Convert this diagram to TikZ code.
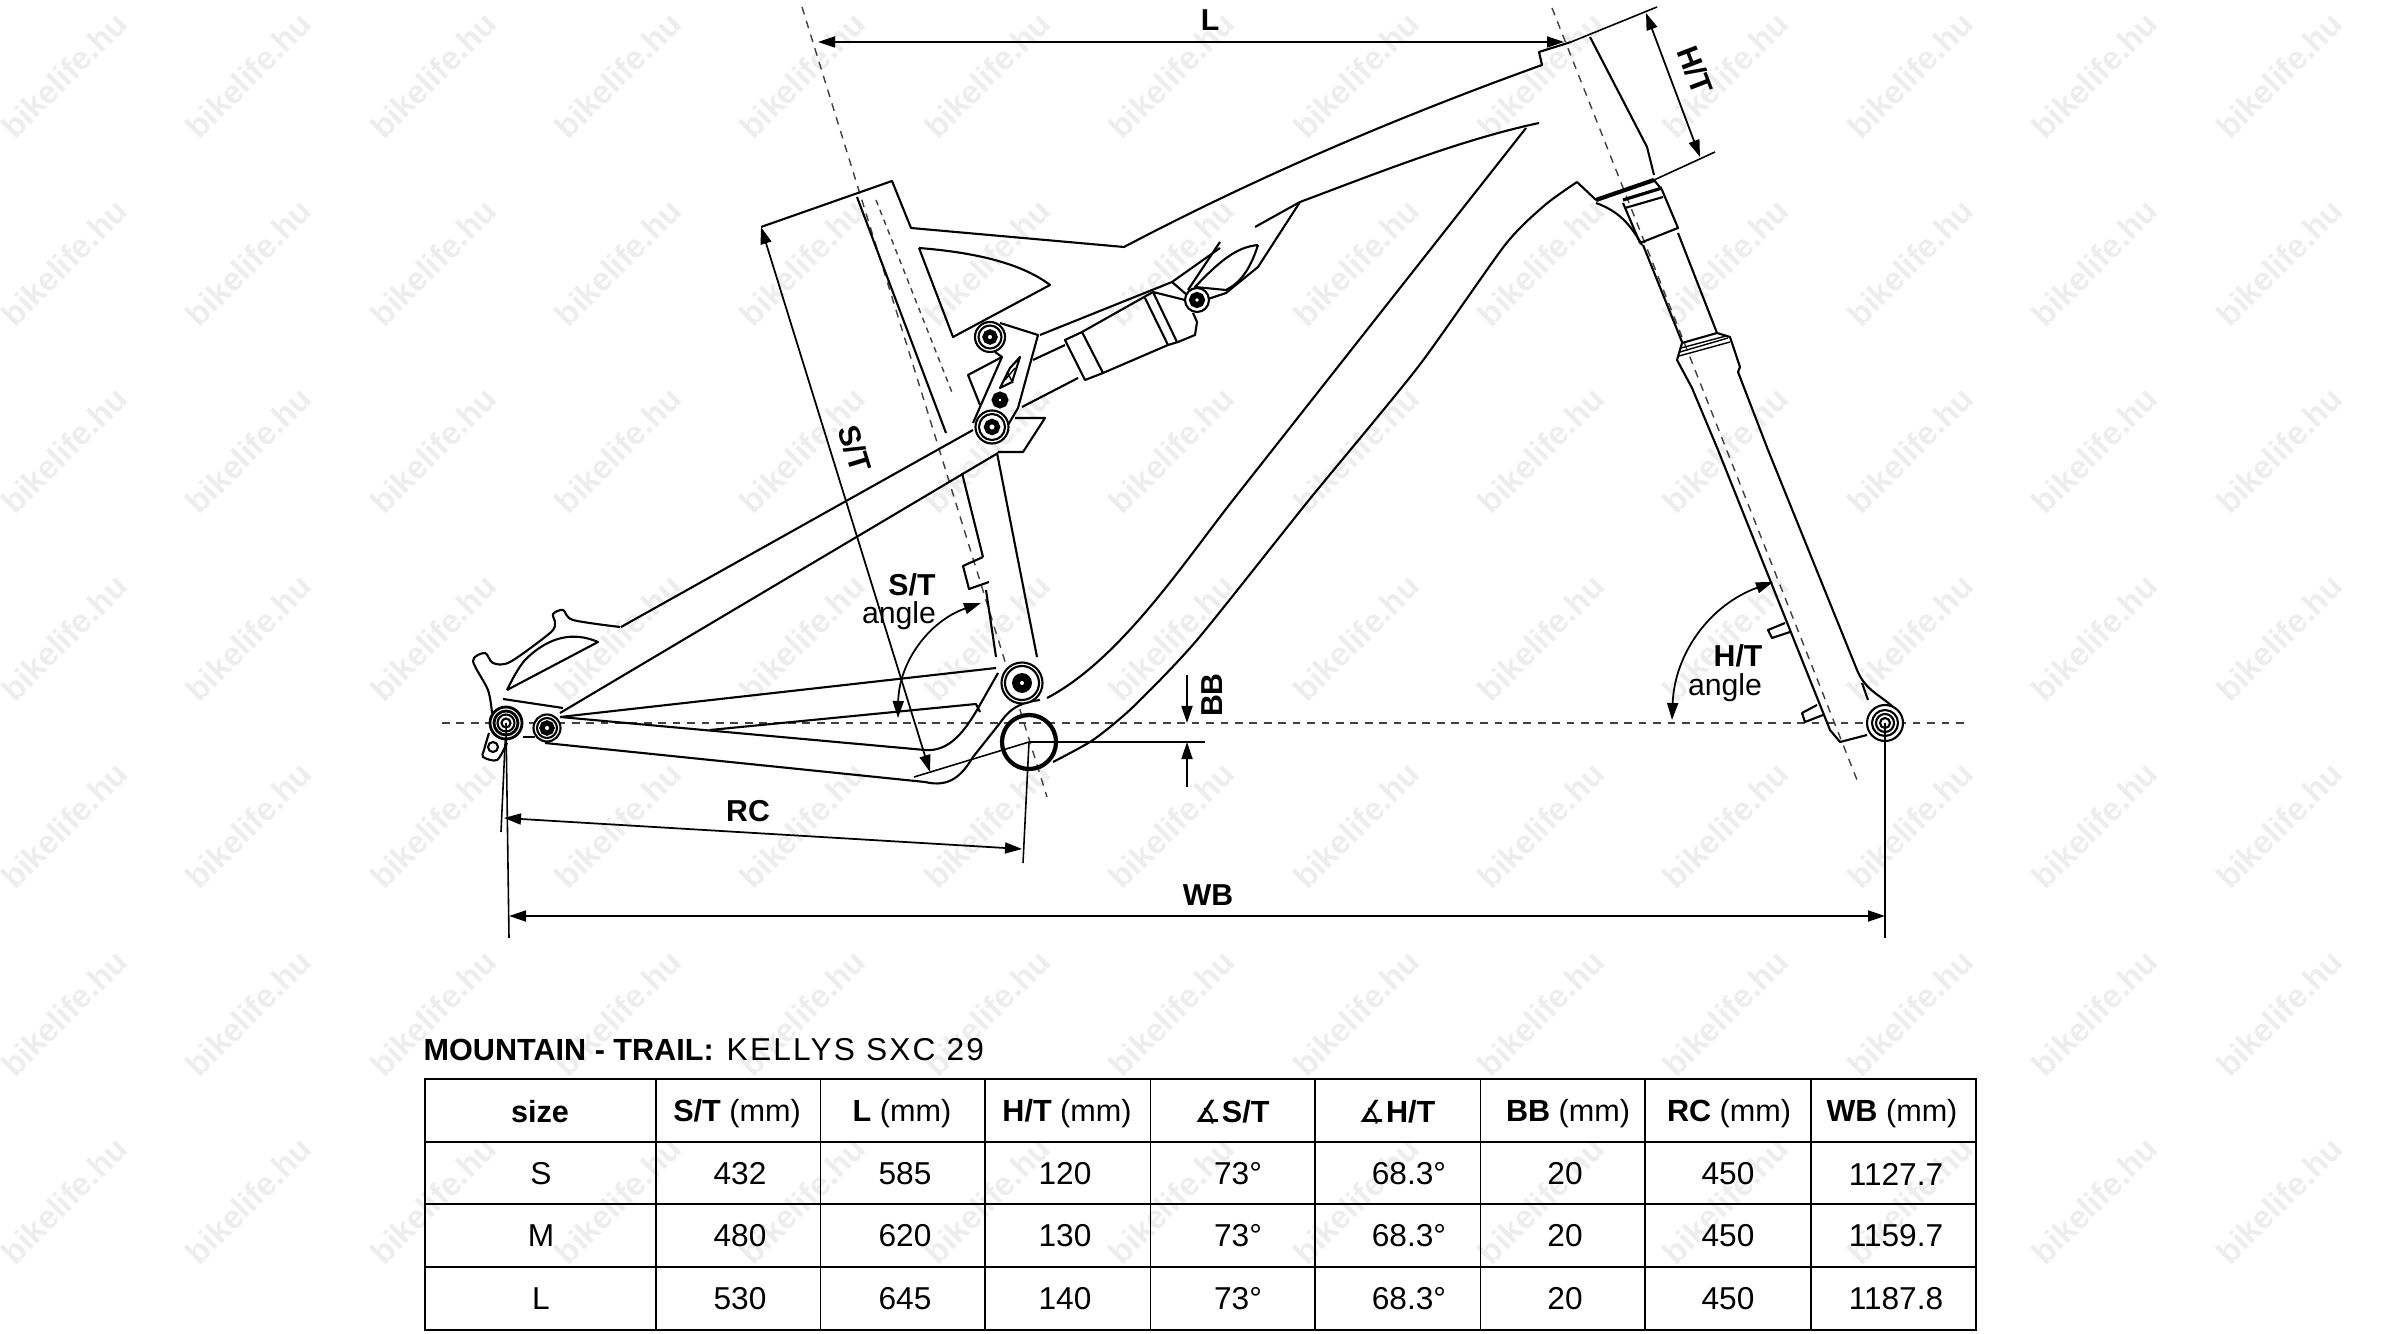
\documentclass[tikz,border=0pt]{standalone}
\usepackage{fontspec}
\setmainfont{Liberation Sans}
\newfontfamily\anglefont{DejaVu Sans}
\usetikzlibrary{arrows.meta}
\definecolor{wmark}{gray}{0.93}
\tikzset{
  frameline/.style={line width=0.6pt, line join=round},
  thinline/.style={line width=0.4pt},
  dimline/.style={line width=0.5pt, {Triangle[length=1.7mm,width=1.1mm]}-{Triangle[length=1.7mm,width=1.1mm]}},
  arrowline/.style={line width=0.5pt, -{Triangle[length=1.7mm,width=1.1mm]}},
  extline/.style={line width=0.45pt},
  axisline/.style={line width=0.4pt, dash pattern=on 2.2pt off 1.9pt, black!75},
  hiddenline/.style={line width=0.4pt, dash pattern=on 1.6pt off 1.4pt, black!75},
  ring/.style={circle, draw, fill=white, inner sep=0pt, line width=0.6pt},
  hub/.style={circle, draw, fill=white, inner sep=0pt, line width=1.5pt},
  marktext/.style={inner sep=0pt, font=\fontsize{8.6}{10}\selectfont\bfseries},
  plaintext/.style={inner sep=0pt, font=\fontsize{8.6}{10}\selectfont},
  headtext/.style={inner sep=0pt, font=\fontsize{8.7}{11}\selectfont\bfseries},
  headcell/.style={inner sep=0pt, font=\fontsize{8.7}{11}\selectfont},
  celltext/.style={inner sep=0pt, font=\fontsize{9}{11}\selectfont},
  tabline/.style={line width=0.55pt},
  wmarktext/.style={inner sep=0pt, rotate=45, wmark, font=\fontsize{9.3}{11}\selectfont\bfseries},
}
\begin{document}
\begin{tikzpicture}[x=0.01cm, y=-0.01cm]
\useasboundingbox (0,0) rectangle (2400,1334);
% watermark
\foreach \wx in {0,...,12}{
  \foreach \wy in {0,...,6}{
    \node[wmarktext] (wm\wx\wy) at ({64+184.6*\wx},{75+187.6*\wy}){bikelife.hu};
  }
}
% axis lines
\coordinate (horizl) at (442,723);
\coordinate (horizr) at (1967,723);
\coordinate (stop) at (802,7);
\coordinate (sbot) at (1047,797);
\coordinate (htop) at (1552,8);
\coordinate (hbot) at (1857,780);
\coordinate (hidtop) at (876,200);
\coordinate (hidbot) at (953,395);
\draw[axisline](horizl) -- (horizr);
\draw[axisline](stop) -- (sbot);
\draw[axisline](htop) -- (hbot);
\draw[hiddenline](hidtop) -- (hidbot);
% main frame
\draw[frameline](761,227) -- (892,181) -- (911,228) -- (1124,247) .. controls (1255,178) and (1395,118) .. (1542,65) -- (1539,52) -- (1571,42);
\draw[frameline](1300,202) .. controls (1380,172) and (1460,140) .. (1539,123);
\draw[frameline](1526,128) -- (1233,500) .. controls (1185,561) and (1120,660) .. (1047,698);
\draw[frameline] plot[smooth, tension=0.4] coordinates {(1577,182) (1545,205) (1505,245) (1418,367) (1309,500) (1197,640) (1133,707) (1093,740) (1053,762)};
\draw[frameline](1577,182) -- (1596,200);
\draw[frameline](1596,203) .. controls (1615,210) and (1628,220) .. (1642,245);
\draw[frameline](1590,37) -- (1647,147) -- (1654,175);
\draw[line width=1.2pt](1596,200) -- (1654,180);
% seat tube
\draw[frameline](857,197) -- (946,433);
\draw[frameline](962,473) -- (983,557);
\draw[frameline](986,590) -- (996,657);
\draw[frameline](997,453) -- (1037,657);
\draw[frameline](983,557) -- (963,566) -- (969,589) -- (989,582);
% gusset window
\draw[frameline](919,248) -- (953,337) -- (1050,285) .. controls (1020,262) and (970,252) .. (919,248);
% top tube lower part and shock mount
\draw[frameline](1300,202) -- (1255,227);
\draw[frameline](1300,202) -- (1258,267) -- (1226,293) -- (1205,300);
\draw[frameline](1258,245) .. controls (1240,247) and (1225,255) .. (1195,287) -- (1226,290) .. controls (1240,283) and (1250,270) .. (1258,245);
\draw[frameline](1220,242) -- (1188,290);
\draw[frameline](1220,248) -- (1172,282) -- (1040,335);
\draw[frameline](1172,282) -- (1187,295);
% shock
\draw[frameline](1082,332) -- (1153,292) -- (1185,300);
\draw[frameline](1103,373) -- (1168,345) -- (1178,342) -- (1195,335) -- (1197,322) -- (1193,313);
\draw[frameline](1145,298) -- (1168,345);
\draw[frameline](1153,292) -- (1177,342);
\draw[frameline](1065,340) -- (1085,380) -- (1103,373) -- (1082,332) -- cycle;
\draw[frameline](1033,360) -- (1065,345);
\draw[frameline](1022,407) -- (1078,378);
% rocker
\draw[frameline](1000,323) -- (1038,335) -- (1018,408) -- (1008,425);
\draw[frameline](973,423) -- (1002,357) -- (995,352);
\draw[frameline](1002,357) -- (968,375) -- (980,405);
\draw[frameline](1020,357) -- (1010,368) -- (1000,388) -- (1012,382) -- cycle;
\draw[thinline](1005,380) -- (1015,368);
\draw[thinline](1007,372) -- (1013,383);
% seat stay
\draw[frameline](621,627) -- (973,430);
\draw[frameline](560,713) -- (998,453);
\draw[frameline](1015,418) -- (1045,418) -- (1023,452) -- (998,452);
% rear dropout
\draw[frameline] plot[smooth, tension=0.5] coordinates {(620,627) (573,620) (563,610) (553,614) (555,623) (550,633) (510,662) (493,663) (485,653) (473,661) (488,690) (492,713)};
\draw[frameline](507,690) -- (598,642) .. controls (575,632) and (550,635) .. (525,660) .. controls (518,668) and (512,680) .. (507,690);
\draw[frameline](503,699) -- (563,708);
\draw[frameline] plot[smooth, tension=0.5] coordinates {(489,733) (484,750) (483,757) (497,760) (507,743)};
\draw[frameline](523,737) -- (535,737);
% stays
\draw[frameline](560,717) -- (996,668);
\draw[frameline](560,717) -- (925,750) .. controls (950,752) and (965,730) .. (977,710) -- (998,673);
\draw[frameline](710,730) -- (976,704) -- (980,712);
\draw[frameline](545,743) -- (925,782) .. controls (950,788) and (962,775) .. (973,757) -- (1000,723) .. controls (1012,705) and (1025,702) .. (1040,700);
% fork
\draw[frameline](1623,203) -- (1640,243) -- (1678,228) -- (1662,190) -- (1654,180);
\draw[line width=0.9pt](1623,200) -- (1662,188);
\draw[frameline](1625,208) -- (1663,197);
\draw[frameline](1643,245) -- (1682,342);
\draw[frameline](1678,233) -- (1717,333);
\draw[frameline](1718,450) -- (1692,388) -- (1677,360) -- (1682,343) -- (1717,333) -- (1730,337) -- (1740,367) -- (1738,372) -- (1768,450);
\draw[thinline](1680,352) -- (1728,338);
\draw[thinline](1681,348) -- (1726,336);
\draw[thinline](1679,356) -- (1730,342);
\draw[frameline](1718,450) -- (1830,730) -- (1840,742) -- (1867,735);
\draw[frameline](1768,450) -- (1857,670) .. controls (1865,690) and (1880,695) .. (1893,707);
\draw[frameline](1862,683) -- (1868,700);
\draw[frameline](1785,623) -- (1768,630) -- (1772,638) -- (1790,632);
\draw[frameline](1817,705) -- (1802,713) -- (1805,722) -- (1823,715);
% pivots
\node[ring, line width=0.8pt, minimum size=3.2mm] (rearaxle) at (506,723){};
\node[ring, line width=0.8pt, minimum size=2.4mm] (rearaxleb) at (506,723){};
\node[ring, minimum size=1.7mm] (rearaxlec) at (506,723){};
\node[ring, minimum size=0.9mm] (rearaxled) at (506,723){};
\node[ring, minimum size=2.7mm] (chainpivot) at (547,728){};
\node[ring, minimum size=2mm] (chainpivotb) at (547,728){};
\node[hub, minimum size=1mm] (chainpivotc) at (547,728){};
\node[ring, minimum size=1mm] (hanger) at (493,747){};
\node[ring, minimum size=4.1mm] (mainpivot) at (1022,683){};
\node[ring, minimum size=3.4mm] (mainpivotb) at (1022,683){};
\node[hub, line width=2.2pt, minimum size=1.2mm] (mainpivotc) at (1022,683){};
\node[ring, minimum size=3mm] (rockertop) at (990,337){};
\node[ring, minimum size=2.3mm] (rockertopb) at (990,337){};
\node[hub, minimum size=1mm] (rockertopc) at (990,337){};
\node[hub, line width=1.9pt, minimum size=1mm] (rockermid) at (1000,400){};
\node[ring, minimum size=3.3mm] (rockerbot) at (992,427){};
\node[ring, minimum size=2.6mm] (rockerbotb) at (992,427){};
\node[hub, minimum size=1.1mm] (rockerbotc) at (992,427){};
\node[ring, minimum size=2.4mm] (shockmount) at (1197,300){};
\node[hub, line width=1.7pt, minimum size=1mm] (shockmountb) at (1197,300){};
\node[ring, minimum size=3.6mm] (frontaxle) at (1885,723){};
\node[ring, minimum size=2.6mm] (frontaxleb) at (1885,723){};
\node[ring, minimum size=1.8mm] (frontaxlec) at (1885,723){};
\node[ring, minimum size=1mm] (frontaxled) at (1885,723){};
\node[circle, draw, line width=1.2pt, minimum size=5.4mm, inner sep=0pt] (bbshell) at (1029,742){};
\coordinate (bbcentre) at (1029,742);
% dimension L
\coordinate (lleft) at (818,42);
\coordinate (lright) at (1564,42);
\draw[dimline](lleft) -- (lright);
\node[marktext] (llabel) at (1210,20){L};
% dimension H/T
\coordinate (hstart) at (1571,42);
\coordinate (hstop) at (1657,7);
\coordinate (hlowa) at (1654,180);
\coordinate (hlowb) at (1715,152);
\coordinate (harrowa) at (1646,13);
\coordinate (harrowb) at (1700,157);
\draw[extline](hstart) -- (hstop);
\draw[extline](hlowa) -- (hlowb);
\draw[dimline](harrowa) -- (harrowb);
\node[marktext, rotate=-69] (hlabel) at (1695,70){H/T};
% dimension S/T
\coordinate (sarrowa) at (761,227);
\coordinate (sarrowb) at (930,772);
\coordinate (sfoot) at (914,777);
\draw[dimline](sarrowa) -- (sarrowb);
\draw[extline](bbcentre) -- (sfoot);
\node[marktext, rotate=-73] (slabel) at (855,449){S/T};
% dimension BB
\coordinate (bbext) at (1205,742);
\coordinate (bbtop) at (1187,675);
\coordinate (bbup) at (1187,723);
\coordinate (bbtail) at (1187,787);
\coordinate (bbdown) at (1187,742);
\draw[extline](bbcentre) -- (bbext);
\draw[arrowline](bbtop) -- (bbup);
\draw[arrowline](bbtail) -- (bbdown);
\node[marktext, rotate=90] (bblabel) at (1212,695){BB};
% dimension RC
\coordinate (rcleft) at (504,818);
\coordinate (rcright) at (1022,849);
\coordinate (rcfoota) at (501,832);
\coordinate (rcfootb) at (1023,863);
\draw[dimline](rcleft) -- (rcright);
\draw[extline](rearaxle) -- (rcfoota);
\draw[extline](bbcentre) -- (rcfootb);
\node[marktext] (rclabel) at (748,811){RC};
% dimension WB
\coordinate (wbleft) at (509,916);
\coordinate (wbright) at (1885,916);
\coordinate (wbfoota) at (509,938);
\coordinate (wbfootb) at (1885,938);
\draw[dimline](wbleft) -- (wbright);
\draw[extline](rearaxle.center) -- (wbfoota);
\draw[extline](frontaxle.center) -- (wbfootb);
\node[marktext] (wblabel) at (1208,895){WB};
% angles
\coordinate (sanga) at (898,718);
\coordinate (sangb) at (981,603);
\coordinate (hanga) at (1672,720);
\coordinate (hangb) at (1773,582);
\draw[dimline](sanga) to[bend left=35] (sangb);
\draw[dimline](hanga) to[bend left=34] (hangb);
\node[marktext] (stangle) at (912,585){S/T};
\node[plaintext] (stword) at (899,616){angle};
\node[marktext] (htangle) at (1738,656){H/T};
\node[plaintext] (htword) at (1725,688){angle};
% title
\node[headtext, anchor=west] (titlea) at (423,1050){MOUNTAIN - TRAIL:};
\node[celltext, anchor=west] (titleb) at (726,1050){\addfontfeature{LetterSpace=7}KELLYS SXC 29};
% table
\draw[tabline](425,1079) rectangle (1976,1330);
\draw[line width=0.8pt](425,1142) -- (1976,1142);
\draw[tabline](425,1204) -- (1976,1204);
\draw[tabline](425,1267) -- (1976,1267);
\draw[tabline](656,1079) -- (656,1330);
\draw[tabline](820.5,1079) -- (820.5,1330);
\draw[tabline](985,1079) -- (985,1330);
\draw[tabline](1150.5,1079) -- (1150.5,1330);
\draw[tabline](1315,1079) -- (1315,1330);
\draw[tabline](1480.5,1079) -- (1480.5,1330);
\draw[tabline](1645,1079) -- (1645,1330);
\draw[tabline](1811,1079) -- (1811,1330);
\node[headtext] (hsize) at (540,1112){size};
\node[headcell] (hst) at (737,1114){\textbf{S/T} (mm)};
\node[headcell] (hl) at (902,1114){\textbf{L} (mm)};
\node[headcell] (hht) at (1067,1114){\textbf{H/T} (mm)};
\node[headtext] (hast) at (1232,1112){{\anglefont\mdseries ∡}S/T};
\node[headtext] (haht) at (1397,1112){{\anglefont\mdseries ∡}H/T};
\node[headcell] (hbb) at (1568,1114){\textbf{BB} (mm)};
\node[headcell] (hrc) at (1729,1114){\textbf{RC} (mm)};
\node[headcell] (hwb) at (1892,1114){\textbf{WB} (mm)};
\node[celltext] (ss) at (541,1174){S};
\node[celltext] (sst) at (740,1174){432};
\node[celltext] (sl) at (905,1174){585};
\node[celltext] (sht) at (1065,1174){120};
\node[celltext] (sast) at (1238,1174){73°};
\node[celltext] (saht) at (1409,1174){68.3°};
\node[celltext] (sbb) at (1565,1174){20};
\node[celltext] (src) at (1728,1174){450};
\node[celltext] (swb) at (1896,1174){1127.7};
\node[celltext] (ms) at (541,1236){M};
\node[celltext] (mst) at (740,1236){480};
\node[celltext] (ml) at (905,1236){620};
\node[celltext] (mht) at (1065,1236){130};
\node[celltext] (mast) at (1238,1236){73°};
\node[celltext] (maht) at (1409,1236){68.3°};
\node[celltext] (mbb) at (1565,1236){20};
\node[celltext] (mrc) at (1728,1236){450};
\node[celltext] (mwb) at (1896,1236){1159.7};
\node[celltext] (ls) at (541,1299){L};
\node[celltext] (lst) at (740,1299){530};
\node[celltext] (ll) at (905,1299){645};
\node[celltext] (lht) at (1065,1299){140};
\node[celltext] (last) at (1238,1299){73°};
\node[celltext] (laht) at (1409,1299){68.3°};
\node[celltext] (lbb) at (1565,1299){20};
\node[celltext] (lrc) at (1728,1299){450};
\node[celltext] (lwb) at (1896,1299){1187.8};
\end{tikzpicture}
\end{document}
